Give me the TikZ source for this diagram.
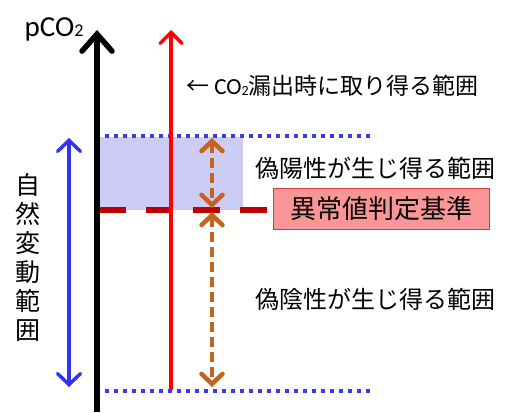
\documentclass[tikz,border=0pt]{standalone}
\usepackage{fontspec}
\setmainfont{Carlito}
\newfontfamily\jp{Noto Sans CJK JP}
\usetikzlibrary{arrows.meta}
\definecolor{axblue}{RGB}{51,51,240}
\definecolor{dotblue}{RGB}{60,60,230}
\definecolor{shadecol}{RGB}{204,204,245}
\definecolor{darkred}{RGB}{192,0,0}
\definecolor{orng}{RGB}{197,100,30}
\definecolor{boxfill}{RGB}{250,150,150}
\definecolor{boxdraw}{RGB}{210,60,60}
\tikzset{
  dotline/.style={dotblue,line width=4pt,dash pattern=on 4pt off 5pt},
  orngarrow/.style={orng,line width=4.5pt,dash pattern=on 10pt off 5pt,
    {Straight Barb[length=10pt,width=21pt,line cap=round]}-{Straight Barb[length=10pt,width=21pt,line cap=round]}},
  lbl/.style={inner sep=0pt,font=\jp\fontsize{24}{24}\selectfont},
}
\begin{document}
\begin{tikzpicture}[x=1pt,y=-1pt]
\useasboundingbox (0,0) rectangle (505,412);
% coordinates
\coordinate (axB) at (97,412);
\coordinate (axT) at (97,30);
\coordinate (rB) at (171,390);
\coordinate (rT) at (171,30);
\coordinate (d1L) at (96,136);
\coordinate (d1R) at (370,136);
\coordinate (d2L) at (96,391);
\coordinate (d2R) at (370,391);
\coordinate (shA) at (97,137);
\coordinate (shB) at (243,210);
\coordinate (rdL) at (99,210);
\coordinate (rdR) at (268,210);
\coordinate (o1T) at (212,138);
\coordinate (o1B) at (212,208);
\coordinate (o2T) at (212,212);
\coordinate (o2B) at (212,387);
\coordinate (bT) at (69,138);
\coordinate (bB) at (69,387);
% shaded band
\fill[shadecol] (shA) rectangle (shB);
% dotted limits
\draw[dotline] (d1L) -- (d1R);
\draw[dotline] (d2L) -- (d2R);
% threshold line
\draw[darkred,line width=6pt,dash pattern=on 27pt off 20pt] (rdL) -- (rdR);
% red leak arrow
\draw[red,line width=3.5pt,-{Straight Barb[length=11pt,width=22pt,line cap=round]}] (rB) -- (rT);
% axis
\draw[black,line width=5.5pt,-{Straight Barb[length=17pt,width=30pt,line cap=round]}] (axB) -- (axT);
% orange arrows
\draw[orngarrow] (o1T) -- (o1B);
\draw[orngarrow] (o2T) -- (o2B);
% blue range arrow
\draw[axblue,line width=3.5pt,{Straight Barb[length=11pt,width=23pt,line cap=round]}-{Straight Barb[length=11pt,width=23pt,line cap=round]}] (bT) -- (bB);
% labels
\node[inner sep=0pt,font=\fontsize{29}{29}\selectfont] (pco) at (54,29) {pCO\raisebox{-0.5pt}{\fontsize{18}{18}\selectfont 2}};
\node[inner sep=0pt,anchor=west,font=\jp\fontsize{23}{23}\selectfont] (leak) at (186,86) {← {\rmfamily\fontsize{23}{23}\selectfont CO\raisebox{-0.5pt}{\fontsize{14}{14}\selectfont 2}}漏出時に取り得る範囲};
\node[lbl,anchor=west] (fp) at (255,168) {偽陽性が生じ得る範囲};
\node[lbl,anchor=west] (fn) at (255,299) {偽陰性が生じ得る範囲};
\node[draw=boxdraw,fill=boxfill,line width=1pt,minimum width=216pt,minimum height=41pt,inner sep=0pt,font=\jp\fontsize{26}{26}\selectfont] (crit) at (381.5,209) {異常値判定基準};
\node[inner sep=0pt,font=\jp\fontsize{25}{29}\selectfont,align=center] (nat) at (28,257) {自\\然\\変\\動\\範\\囲};
\end{tikzpicture}
\end{document}
